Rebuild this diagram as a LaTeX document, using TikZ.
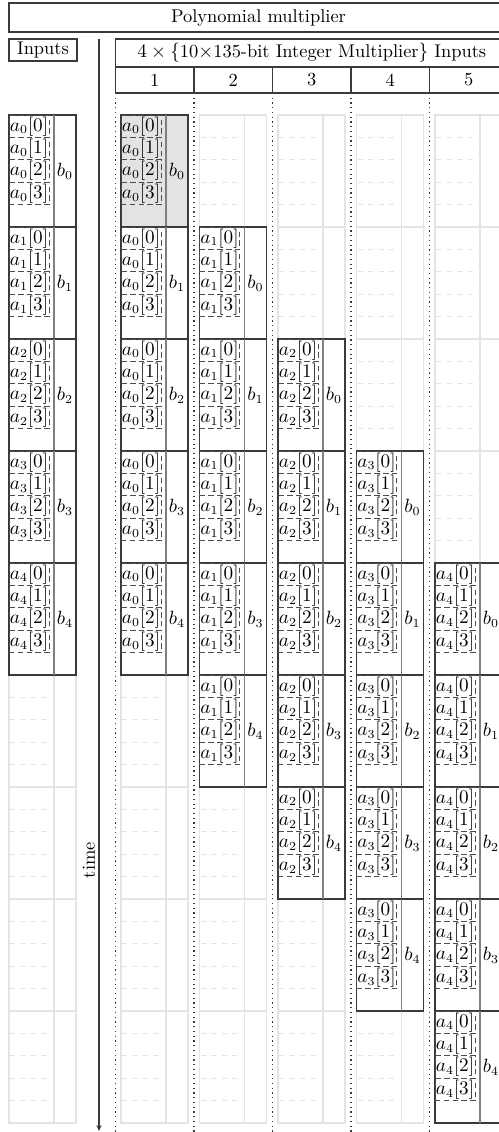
\documentclass[tikz,border=0pt]{standalone}
\usepackage{xcolor}
\usepackage{tikz}
\usetikzlibrary{arrows.meta,positioning}

\definecolor{linedark}{RGB}{58,58,58}
\definecolor{idlegray}{RGB}{228,228,228}
\definecolor{busygray}{RGB}{227,227,229}

% operand slot: name, x, y, index of a, index of b, fill
\newcommand{\opslot}[6]{%
  \node[slot, fill=#6] (#1) at (#2,#3) {};
  \draw[divline] ([xshift=25.65pt]#1.north west) -- ([xshift=25.65pt]#1.south west);
  \node[limb] (#1-0) at (#1.north west) {$a_{#4}[0]$};
  \node[limb, below=0pt of #1-0] (#1-1) {$a_{#4}[1]$};
  \node[limb, below=0pt of #1-1] (#1-2) {$a_{#4}[2]$};
  \node[limb, below=0pt of #1-2] (#1-3) {$a_{#4}[3]$};
  \node (#1-b) at ([xshift=-6.27pt]#1.east) {$b_{#5}$};
}
% empty slot: name, x, y
\newcommand{\idleslot}[3]{%
  \node[slot, draw=idlegray] (#1) at (#2,#3) {};
  \draw[idle] ([xshift=25.65pt]#1.north west) -- ([xshift=25.65pt]#1.south west);
  \foreach \k in {1,...,4}
    \draw[idle, dashed] ([xshift=0.6pt, yshift=-\k*12.77pt]#1.north west) -- ++(39,0);
}

\begin{document}
\begin{tikzpicture}[
  x=0.57pt, y=-0.57pt,
  font=\fontsize{10.5}{13}\selectfont,
  hdr/.style={draw=linedark, semithick, anchor=north west, inner sep=0pt, outer sep=0pt},
  slot/.style={draw=linedark, semithick, anchor=north west, minimum width=38.19pt, minimum height=63.84pt, inner sep=0pt, outer sep=0pt},
  limb/.style={draw=black!70, densely dashed, anchor=north west, minimum width=22.8pt, minimum height=12.77pt, inner sep=0.3pt, outer sep=0pt},
  divline/.style={draw=black!50, semithick},
  idle/.style={draw=idlegray, semithick},
  colsep/.style={draw=linedark, dotted, line width=0.7pt},
  timeline/.style={-{Stealth[length=3.4pt, width=3pt]}, draw=linedark, semithick},
  timelbl/.style={rotate=90, anchor=south, inner sep=2pt}
]
\useasboundingbox (0,0) rectangle (499,1132);
\clip (0,0) rectangle (499,1132);

% headers
\node[hdr, minimum width=284.43pt, minimum height=16.53pt] (poly) at (9,3) {Polynomial multiplier};
\node[hdr, minimum width=38.76pt, minimum height=12.54pt] (inputs) at (9,39) {Inputs};
\node[hdr, minimum width=223.73pt, minimum height=15.96pt] (mult) at (115.5,39) {$4\times\{$10$\times$135-bit Integer Multiplier$\}$ Inputs};
\foreach \c in {1,...,5}
  \node[hdr, minimum width=44.75pt, minimum height=14.82pt] (col\c) at ({115.5+78.5*(\c-1)},67) {\c};

% lane separators
\coordinate (floor) at (0,1136);
\foreach \c in {1,...,5}
  \draw[colsep] (col\c.south west) -- (col\c.south west |- floor);

% time axis
\coordinate (tstart) at (99,39);
\coordinate (tend) at (99,1131);
\draw[timeline] (tstart) -- node[timelbl, pos=0.752] (tlbl) {time} (tend);

% idle slots first, busy ones on top
\foreach \c in {0,...,5}
  \foreach \r in {0,...,8} {
    \pgfmathtruncatemacro{\lo}{\c==0 ? 0 : \c-1}
    \pgfmathtruncatemacro{\hi}{\c==0 ? 4 : \c+3}
    \pgfmathsetmacro{\xo}{\c==0 ? 9 : 121+78.5*(\c-1)}
    \pgfmathtruncatemacro{\off}{(\r<\lo) || (\r>\hi)}
    \ifnum\off=1 \idleslot{s-\c-\r}{\xo}{115+112*\r}\fi
  }
\foreach \c in {0,...,5}
  \foreach \r in {0,...,8} {
    \pgfmathtruncatemacro{\lo}{\c==0 ? 0 : \c-1}
    \pgfmathtruncatemacro{\hi}{\c==0 ? 4 : \c+3}
    \pgfmathsetmacro{\xo}{\c==0 ? 9 : 121+78.5*(\c-1)}
    \pgfmathtruncatemacro{\off}{(\r<\lo) || (\r>\hi)}
    \pgfmathtruncatemacro{\ai}{\c==0 ? \r : \c-1}
    \pgfmathtruncatemacro{\bi}{\c==0 ? \r : \r-\c+1}
    \pgfmathtruncatemacro{\hot}{(\c==1) && (\r==0)}
    \ifnum\hot=1 \def\slotfill{busygray}\else\def\slotfill{white}\fi
    \ifnum\off=0 \opslot{s-\c-\r}{\xo}{115+112*\r}{\ai}{\bi}{\slotfill}\fi
  }
\end{tikzpicture}
\end{document}
